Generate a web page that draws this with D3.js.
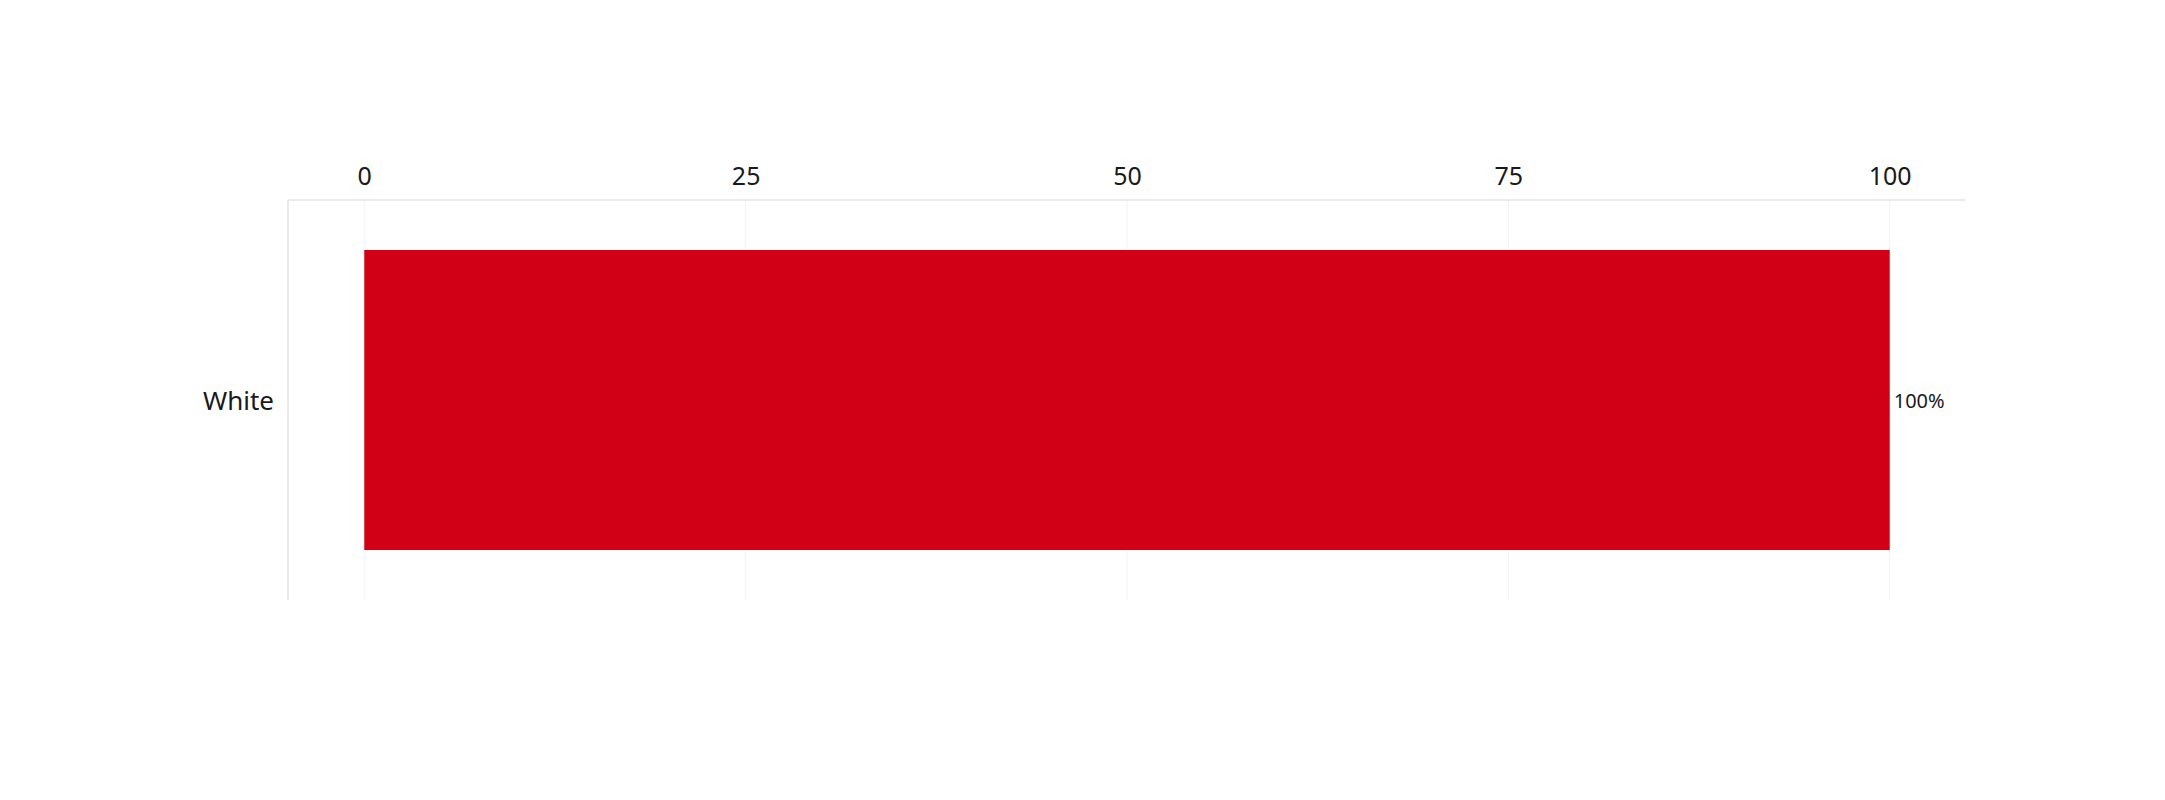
<!DOCTYPE html>
<html>
<head>
<meta charset="utf-8">
<script src="https://cdn.jsdelivr.net/npm/d3@7"></script>
<style>
  body { margin: 0; background: #fff; }
  text { font-family: "Noto Sans", sans-serif; fill: #1a1a1a; }
</style>
</head>
<body>
<script>
var categories = ["White"];
var values = [100];
var labels = ["100%"];
var ticks = [0, 25, 50, 75, 100];

var width = 2165, height = 800;
var margin = { top: 200, right: 199, bottom: 200, left: 288 };

var svg = d3.select("body")
    .append("svg")
    .attr("width", width)
    .attr("height", height);

var x = d3.scaleLinear()
    .domain([-5, 105])
    .range([margin.left, width - margin.right]);

var y = d3.scaleBand()
    .domain(categories)
    .range([margin.top, height - margin.bottom])
    .paddingInner(0.25)
    .paddingOuter(0.125);

// grid
svg.append("g").selectAll("line").data(ticks)
    .enter().append("line")
    .attr("x1", function(d){ return x(d); })
    .attr("x2", function(d){ return x(d); })
    .attr("y1", margin.top)
    .attr("y2", height - margin.bottom)
    .attr("stroke", "#f2f2f2")
    .attr("stroke-width", 1);

// axis lines
svg.append("line")
    .attr("x1", margin.left).attr("x2", width - margin.right)
    .attr("y1", margin.top).attr("y2", margin.top)
    .attr("stroke", "#e6e6e6").attr("stroke-width", 1.6);
svg.append("line")
    .attr("x1", margin.left).attr("x2", margin.left)
    .attr("y1", margin.top).attr("y2", height - margin.bottom)
    .attr("stroke", "#e6e6e6").attr("stroke-width", 1.6);

// x tick labels on top
var xAxis = svg.append("g")
    .attr("transform", "translate(0," + margin.top + ")")
    .call(d3.axisTop(x).tickValues(ticks).tickSize(0).tickPadding(15));
xAxis.select(".domain").remove();
xAxis.selectAll("text")
    .attr("font-size", 25)
    .style("font-family", "'Noto Sans', sans-serif")
    .attr("fill", "#1a1a1a");

// y labels
var yAxis = svg.append("g")
    .attr("transform", "translate(" + margin.left + ",0)")
    .call(d3.axisLeft(y).tickSize(0).tickPadding(14));
yAxis.select(".domain").remove();
yAxis.selectAll("text")
    .attr("font-size", 26)
    .attr("dy", "0.4em")
    .style("font-family", "'Noto Sans', sans-serif")
    .attr("fill", "#1a1a1a");

// bars
svg.append("g").selectAll("rect").data(values)
    .enter().append("rect")
    .attr("x", x(0))
    .attr("y", function(d, i){ return y(categories[i]); })
    .attr("width", function(d){ return x(d) - x(0); })
    .attr("height", y.bandwidth())
    .attr("fill", "#d20016");

// value labels
svg.append("g").selectAll("text").data(values)
    .enter().append("text")
    .attr("x", function(d){ return x(d) + 4; })
    .attr("y", function(d, i){ return y(categories[i]) + y.bandwidth() / 2; })
    .attr("dy", "0.4em")
    .attr("font-size", 20)
    .text(function(d, i){ return labels[i]; });
</script>
</body>
</html>
